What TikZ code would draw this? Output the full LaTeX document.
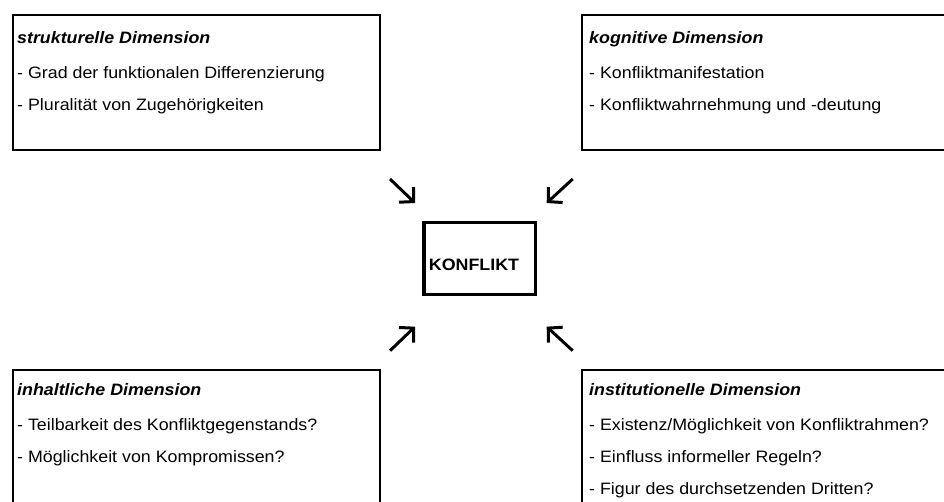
\documentclass[tikz,border=0pt]{standalone}
\usepackage{fontspec}
\setmainfont[FakeStretch=1.08]{Liberation Sans}
\usetikzlibrary{positioning,arrows.meta}

\begin{document}
\begin{tikzpicture}[x=1pt, y=-1pt,
  dimbox/.style={draw, line width=2pt, anchor=north west, inner sep=0pt},
  dimtext/.style={anchor=base west, align=left, inner sep=0pt, font=\fontsize{16.5}{32}\selectfont},
  pfeil/.style={-{Straight Barb[length=10pt, width=21pt]}, line width=3pt}]
  \useasboundingbox (0,0) rectangle (944,501);
  \clip (0,0) rectangle (944,501);

  % the four dimensions
  \node[dimbox, minimum width=367.5pt, minimum height=135pt] (struktur) at (11.5,13.5) {};
  \node[dimbox, minimum width=420pt, minimum height=135pt] (kognitiv) at (581.3,13.5) {};
  \node[dimbox, minimum width=367pt, minimum height=240pt] (inhalt) at (11.5,368.7) {};
  \node[dimbox, minimum width=420pt, minimum height=240pt] (institution) at (581.3,368.7) {};

  % text sits on the baseline of its last line
  \node[dimtext] (struktur-text) at (17,110) {\textbf{\textit{strukturelle Dimension}}\\[3pt]
    - Grad der funktionalen Differenzierung\\ - Pluralität von Zugehörigkeiten};
  \node[dimtext] (kognitiv-text) at (589,110) {\textbf{\textit{kognitive Dimension}}\\[3pt]
    - Konfliktmanifestation\\ - Konfliktwahrnehmung und -deutung};
  \node[dimtext] (inhalt-text) at (17,462) {\textbf{\textit{inhaltliche Dimension}}\\[3pt]
    - Teilbarkeit des Konfliktgegenstands?\\ - Möglichkeit von Kompromissen?};
  \node[dimtext] (institution-text) at (589,494) {\textbf{\textit{institutionelle Dimension}}\\[3pt]
    - Existenz/Möglichkeit von Konfliktrahmen?\\ - Einfluss informeller Regeln?\\ - Figur des durchsetzenden Dritten?};

  % centre
  \node[draw, line width=3.5pt, minimum width=111.5pt, minimum height=72.4pt, text width=101.5pt,
    inner xsep=5pt, align=left, text height=23pt, text depth=0pt,
    font=\bfseries\fontsize{16.5}{20}\selectfont] (konflikt) at (479.7,258.5) {KONFLIKT};

  \coordinate (p1) at (390,179);   \coordinate (q1) at (415,203);
  \coordinate (p2) at (572.7,179); \coordinate (q2) at (546.7,203);
  \coordinate (p3) at (390,350.7); \coordinate (q3) at (415,326.7);
  \coordinate (p4) at (572.7,350.7); \coordinate (q4) at (546.7,326.7);
  \draw[pfeil] (p1) -- (q1);
  \draw[pfeil] (p2) -- (q2);
  \draw[pfeil] (p3) -- (q3);
  \draw[pfeil] (p4) -- (q4);
\end{tikzpicture}
\end{document}
